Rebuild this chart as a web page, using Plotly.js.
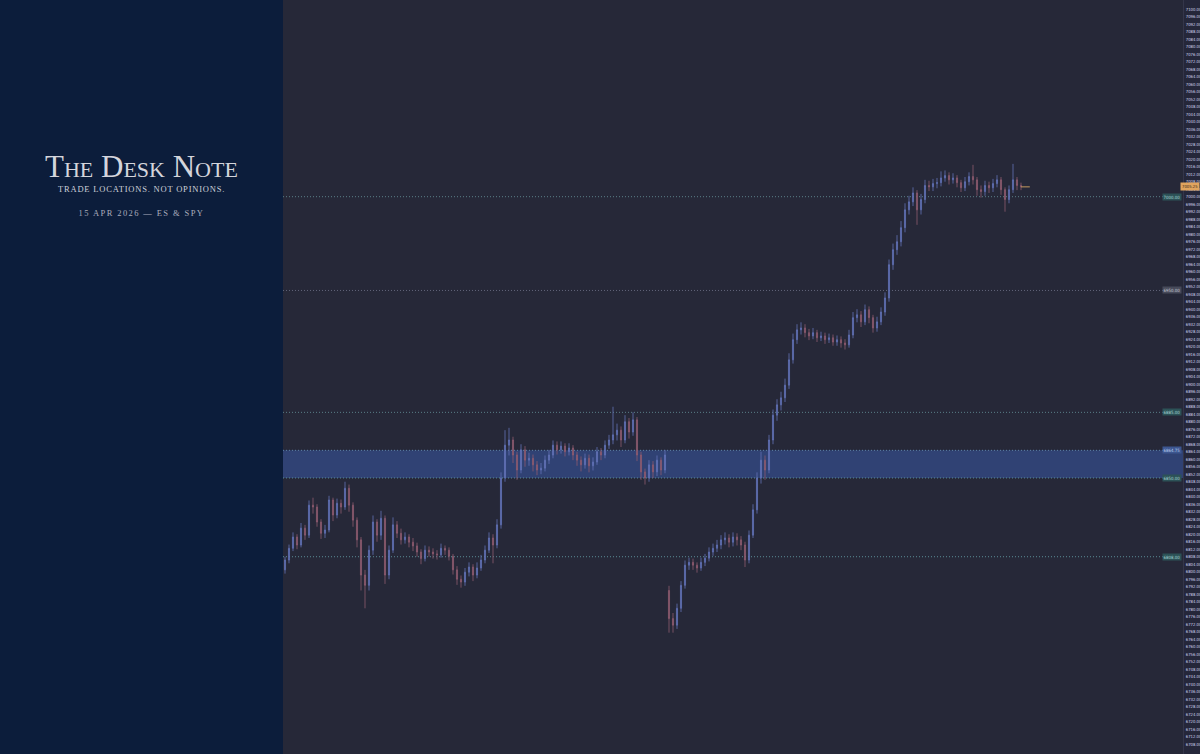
<!DOCTYPE html>
<html>
<head>
<meta charset="utf-8">
<script src="https://cdn.plot.ly/plotly-3.0.1.min.js"></script>
<style>
html,body{margin:0;padding:0;background:#0c1d3b;}
#chart{width:1200px;height:754px;}
</style>
</head>
<body>
<div id="chart"></div>
<script>
// ---- DATA ----
const barIndex = Array.from({length:185},(_,i)=>i);
const openPrices = [6801,6806.25,6812.5,6818.5,6814.25,6823.25,6819.5,6835.5,6834.5,6826.5,6820.5,6822.25,6838.25,6830.25,6836.5,6834.5,6844.5,6835.5,6827.5,6817,6798.25,6792.75,6811.5,6826.5,6819.5,6828.5,6798.25,6811.5,6825,6820.5,6817,6818.5,6815.75,6813.75,6810.5,6807,6811.5,6810.5,6809.5,6809,6812.5,6811.5,6808.25,6801,6796,6794.5,6799.75,6802.5,6798.25,6802,6806.25,6811.5,6818,6814.25,6825,6850,6867.5,6870.25,6862.25,6854.25,6865,6859.5,6860.5,6857,6854.25,6855.25,6859.5,6862.25,6867.5,6865,6867,6864,6866,6862.25,6859.5,6857,6860.5,6856.5,6858.5,6864,6862.25,6867.5,6870.25,6873,6875.5,6870.25,6880,6874.5,6881,6862.25,6853.25,6850,6857,6853.25,6859.5,6854.25,6790,6775,6771.5,6780.5,6792.75,6803.5,6805,6803.5,6802,6805,6807.25,6810.5,6812.5,6814.25,6817,6818,6815.75,6818.5,6817,6814.25,6806.25,6819.5,6833,6850,6859.5,6854.25,6870.25,6883.5,6889,6892.75,6899.5,6913,6923.75,6929,6930,6927.5,6925.75,6927.5,6924.75,6925.75,6923.75,6924.75,6922.5,6923.75,6922,6921,6926.25,6935.5,6937,6933.25,6939.75,6935.5,6930,6933.25,6938.5,6946,6963.75,6971.75,6976,6983.5,6993,6997.25,7002,6993,6998.5,7006,7005.25,7007,7007.5,7010,7011.25,7009,7010,7007.5,7004.75,7008,7010.75,7009,7003.75,7002.75,7006,7004.75,7007,7009,7003.75,6998.5,7003.75,7009,7006];
const highPrices = [6808,6814.5,6821,6820,6826,6825,6838,6839.5,6836,6828,6825,6840.5,6839.5,6839,6838.5,6848,6846.5,6837,6829,6818.5,6801,6814,6830,6828,6832.5,6830,6814,6829,6827,6823,6821,6820,6818,6815.5,6812,6814,6813.5,6812.5,6811.5,6815,6814,6813,6809.5,6803,6798,6802,6805,6804,6805,6809,6814,6821,6820,6828,6853,6875.5,6876.75,6872,6864,6868,6867,6863.5,6862.5,6859,6858,6862,6865,6870,6869.5,6869.5,6868.5,6868.5,6867.5,6864,6861.5,6863,6862.5,6861,6866.5,6866,6870,6873,6888,6879,6877.5,6883.5,6882,6885,6882.5,6864,6855,6859.5,6859,6862,6861,6865,6792.5,6778,6783,6795,6806,6807.5,6807,6805,6807.5,6809.5,6813,6815,6817,6819.5,6821,6820,6821,6820.5,6819,6816,6822,6836,6853,6864,6862,6873,6886.5,6892,6896,6903,6916.5,6927,6932,6933,6932,6929.5,6930,6929,6928,6927.5,6927,6926.5,6926,6925.5,6924,6929,6938.5,6940,6939,6942.5,6941.5,6937,6936,6941,6949,6966.5,6975,6979.5,6987,6996.5,7000.5,7005,7003.5,7001.5,7009,7008.5,7009.5,7010,7013.5,7014,7013,7012.5,7011.5,7009,7010.5,7013,7017,7010.5,7006,7008.5,7008,7009.5,7011.5,7010.5,7005,7006,7017.5,7010.5,7007.5];
const lowPrices = [6799,6804.5,6811,6812,6813,6817,6818,6831,6824,6817.5,6818,6821,6827,6828.5,6831,6833,6832,6824,6813,6790,6780.5,6790,6809,6816,6817,6793.5,6796,6810,6818,6814.5,6815,6813,6811,6808,6804,6805.5,6808,6807,6806.5,6807.5,6809,6806,6798.5,6793,6791.5,6792.5,6797.5,6795,6796.5,6800.5,6804.5,6810,6804.5,6812.5,6823,6848,6862,6858,6849,6852.5,6856,6856.5,6853.5,6851.5,6852,6853.5,6857.5,6860.5,6862.5,6863,6861.5,6862,6859.5,6856.5,6853.5,6855,6853,6854,6857,6859.5,6860.5,6865.5,6868,6870,6866.5,6868.5,6871,6872.5,6859,6849,6846.5,6848,6850,6851,6851.5,6852.5,6767.5,6767.5,6769.5,6778.5,6791,6801,6801,6799.5,6800.5,6803,6805.5,6808.5,6810.5,6812,6814.5,6813,6813.5,6814,6811.5,6802.5,6804.5,6818,6831,6847,6849,6852.5,6868,6880.5,6886,6890.5,6897.5,6911,6921.5,6926.5,6925,6923.5,6924,6922.5,6923,6921.5,6922,6920.5,6920.5,6919.5,6918.5,6919.5,6924.5,6933,6930.5,6931.5,6932.5,6927.5,6928,6931.5,6936.5,6944,6961,6969,6973.5,6981,6990.5,6995,6985,6990.5,6996.5,7003,7003,7004.5,7005.5,7008,7006.5,7007,7005,7002.5,7003,7006,7006.5,7000.5,6999.5,7000.5,7002,7002.5,7005,7001,6992,6996.5,7002,7003.5,7003.5];
const closePrices = [6806.25,6812.5,6818.5,6814.25,6823.25,6819.5,6835.5,6834.5,6826.5,6820.5,6822.25,6838.25,6830.25,6836.5,6834.5,6844.5,6835.5,6827.5,6817,6798.25,6792.75,6811.5,6826.5,6819.5,6828.5,6798.25,6811.5,6825,6820.5,6817,6818.5,6815.75,6813.75,6810.5,6807,6811.5,6810.5,6809.5,6809,6812.5,6811.5,6808.25,6801,6796,6794.5,6799.75,6802.5,6798.25,6802,6806.25,6811.5,6818,6814.25,6825,6850,6867.5,6870.25,6862.25,6854.25,6865,6859.5,6860.5,6857,6854.25,6855.25,6859.5,6862.25,6867.5,6865,6867,6864,6866,6862.25,6859.5,6857,6860.5,6856.5,6858.5,6864,6862.25,6867.5,6870.25,6873,6875.5,6870.25,6880,6874.5,6881,6862.25,6853.25,6850,6857,6853.25,6859.5,6854.25,6862.25,6775,6771.5,6780.5,6792.75,6803.5,6805,6803.5,6802,6805,6807.25,6810.5,6812.5,6814.25,6817,6818,6815.75,6818.5,6817,6814.25,6806.25,6819.5,6833,6850,6859.5,6854.25,6870.25,6883.5,6889,6892.75,6899.5,6913,6923.75,6929,6930,6927.5,6925.75,6927.5,6924.75,6925.75,6923.75,6924.75,6922.5,6923.75,6922,6921,6926.25,6935.5,6937,6933.25,6939.75,6935.5,6930,6933.25,6938.5,6946,6963.75,6971.75,6976,6983.5,6993,6997.25,7002,6993,6998.5,7006,7005.25,7007,7007.5,7010,7011.25,7009,7010,7007.5,7004.75,7008,7010.75,7009,7003.75,7002.75,7006,7004.75,7007,7009,7003.75,6998.5,7003.75,7009,7006,7005.25];

const levelPrices = [7000, 6950, 6885, 6864.75, 6850, 6808];
const zoneLow = 6850;
const zoneHigh = 6864.75;
const lastPrice = 7005.25;

const titleText = "The Desk Note";
const taglineText = "TRADE LOCATIONS. NOT OPINIONS.";
const dateText = "15 APR 2026 — ES & SPY";

// ---- STYLE / GEOMETRY ----
const W = 1200, H = 754;
const plotLeft = 283, plotRight = 1183;
const plotW = plotRight - plotLeft;
const px = v => (v - plotLeft) / plotW;     // figure pixel x -> paper x
const py = v => 1 - v / H;                  // figure pixel y -> paper y
const axisFont = 'Liberation Sans Narrow, DejaVu Sans Condensed, sans-serif';
const levelStyle = {
  7000:   {line:'#5a7f88', bg:'#2c5257', fg:'#a9d6d4'},
  6950:   {line:'#62657a', bg:'#474a5a', fg:'#c9cbd6'},
  6885:   {line:'#5a7f88', bg:'#2c5257', fg:'#a9d6d4'},
  6864.75:{line:'#5f84aa', bg:'#3d5690', fg:'#bcd0ee'},
  6850:   {line:'#5a8c96', bg:'#2c5257', fg:'#a9d6d4'},
  6808:   {line:'#5a8c96', bg:'#2c5257', fg:'#a9d6d4'}
};

const shapes = [];
// axis strip
shapes.push({type:'rect', xref:'paper', yref:'paper', x0:1, x1:px(W), y0:0, y1:1,
  fillcolor:'#25273a', line:{width:0}, layer:'below'});
// zone
shapes.push({type:'rect', xref:'x domain', yref:'y', x0:0, x1:1, y0:zoneLow, y1:zoneHigh,
  fillcolor:'#31447a', opacity:0.92, line:{width:0}, layer:'below'});
// level lines
levelPrices.forEach(p=>{
  const s = levelStyle[p];
  shapes.push({type:'line', xref:'x domain', yref:'y', x0:0, x1:0.984, y0:p, y1:p,
    line:{color:s.line, width:1, dash:'1px,2px'}, layer:'below'});
});
// last price stub
shapes.push({type:'line', xref:'x', yref:'y', x0:barIndex[barIndex.length-1], x1:barIndex[barIndex.length-1]+2.2,
  y0:lastPrice, y1:lastPrice, line:{color:'#c49a5e', width:1}});

const serif = 'Liberation Serif, DejaVu Serif, serif';
const annotations = [
  {text:titleText, xref:'paper', yref:'paper', x:px(141.5), y:py(167), xanchor:'center', yanchor:'middle',
   showarrow:false, font:{family:serif, size:31, color:'#d4d5dc', variant:'small-caps'}},
  {text:taglineText, xref:'paper', yref:'paper', x:px(141.5), y:py(189), xanchor:'center', yanchor:'middle',
   showarrow:false, font:{family:serif, size:8.5, color:'#cdd0d9'}},
  {text:dateText, xref:'paper', yref:'paper', x:px(141.5), y:py(213), xanchor:'center', yanchor:'middle',
   showarrow:false, font:{family:serif, size:8.5, color:'#a9acbb'}}
];
levelPrices.forEach(p=>{
  const s = levelStyle[p];
  annotations.push({text:p.toFixed(2), xref:'x domain', yref:'y', x:0.999, y:p, xanchor:'right', yanchor:'middle',
    showarrow:false, bgcolor:s.bg, borderpad:0.5, font:{family:axisFont, size:4.4, color:s.fg}});
});
annotations.push({text:lastPrice.toFixed(2), xref:'paper', yref:'y', x:px(W), y:lastPrice, xanchor:'right', yanchor:'middle',
  showarrow:false, bgcolor:'#e0a45e', borderpad:1, font:{family:axisFont, size:4.2, color:'#3b2a1a'}});

const trace = {
  type:'candlestick', x:barIndex, open:openPrices, high:highPrices, low:lowPrices, close:closePrices,
  increasing:{line:{color:'#6272b6', width:0.8}, fillcolor:'rgba(98,114,182,0.85)'},
  decreasing:{line:{color:'#8e5c70', width:0.8}, fillcolor:'rgba(142,92,112,0.85)'},
  whiskerwidth:0, hoverinfo:'skip'
};

const layout = {
  width:W, height:H,
  paper_bgcolor:'#0c1d3b', plot_bgcolor:'#262838',
  margin:{l:plotLeft, r:W-plotRight, t:0, b:0, pad:0},
  showlegend:false, boxgap:0.6,
  xaxis:{range:[-0.5,224.5], visible:false, rangeslider:{visible:false}, fixedrange:true},
  yaxis:{side:'right', range:[6702.8,7104.9], dtick:4, tick0:0, tickformat:'.2f',
    showgrid:false, zeroline:false, showline:true, linecolor:'#34364a', linewidth:1,
    ticks:'', ticklabelstandoff:1,
    tickfont:{family:axisFont, size:4.2, color:'#d2d5f0'}},
  shapes:shapes, annotations:annotations
};

Plotly.newPlot('chart',[trace],layout,{staticPlot:true, displayModeBar:false}).then(()=>{
  const txts = document.querySelectorAll('.annotation-text');
  if (txts[1]) txts[1].style.letterSpacing = '0.8px';
  if (txts[2]) txts[2].style.letterSpacing = '1.4px';
});
</script>
</body>
</html>
